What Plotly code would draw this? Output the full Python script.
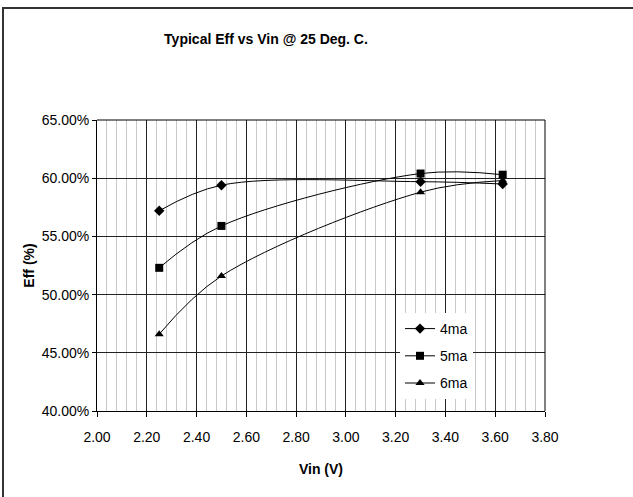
import plotly.graph_objects as go

vin = [2.25, 2.50, 3.30, 3.63]
eff_4ma = [0.572, 0.594, 0.597, 0.595]
eff_5ma = [0.523, 0.559, 0.604, 0.603]
eff_6ma = [0.466, 0.516, 0.588, 0.598]
series_names = ["4ma", "5ma", "6ma"]
symbols = ["diamond", "square", "triangle-up"]
marker_sizes = [8, 8, 8]

FONT = "Liberation Sans, Arial, sans-serif"

fig = go.Figure()
for i, (name, ys) in enumerate(zip(series_names, [eff_4ma, eff_5ma, eff_6ma])):
    fig.add_trace(go.Scatter(
        x=vin, y=ys, name=name, mode="lines+markers",
        line=dict(color="black", width=1, shape="spline", smoothing=1.0),
        marker=dict(symbol=symbols[i], size=marker_sizes[i], color="black"),
        legendgroup=name,
    ))

W, H = 633, 497
L, R, T, B = 97, 88, 120, 86
pw, ph = W - L - R, H - T - B

def px_x(p):
    return (p - L) / pw

def px_y(p):
    return (H - B - p) / ph

fig.update_layout(
    width=W, height=H,
    margin=dict(l=L, r=R, t=T, b=B),
    paper_bgcolor="white", plot_bgcolor="white",
    font=dict(family=FONT, size=14, color="black"),
    title=dict(text="<b>Typical Eff vs Vin @ 25 Deg. C.</b>", x=266 / W, xanchor="center",
               xref="container",
               y=1 - 39 / H, yanchor="middle", font=dict(size=14, family=FONT)),
    showlegend=True,
    legend=dict(x=px_x(400), y=px_y(313), xanchor="left", yanchor="top",
                bgcolor="white", borderwidth=0, traceorder="grouped",
                tracegroupgap=6, font=dict(size=14, family=FONT), itemwidth=30),
    xaxis=dict(range=[2.0, 3.8], dtick=0.2, tick0=2.0, tickformat=".2f",
               showgrid=True, gridcolor="#222222", gridwidth=1,
               minor=dict(dtick=0.04, tick0=2.0, showgrid=True, gridcolor="#c8c8c8", gridwidth=1),
               showline=True, linecolor="black", linewidth=1, mirror=False,
               ticks="outside", ticklen=5, tickcolor="black", ticklabelstandoff=8,
               title=dict(text="<b>Vin (V)</b>", font=dict(size=14, family=FONT), standoff=20),
               tickfont=dict(size=14), zeroline=False),
    yaxis=dict(range=[0.40, 0.65], dtick=0.05, tick0=0.40, tickformat=".2%",
               showgrid=True, gridcolor="#222222", gridwidth=1,
               showline=True, linecolor="black", linewidth=1,
               ticks="outside", ticklen=4, tickcolor="black",
               title=dict(text="<b>Eff (%)</b>", font=dict(size=14, family=FONT), standoff=3),
               tickfont=dict(size=14), zeroline=False),
    shapes=[
        dict(type="line", xref="paper", yref="paper", x0=1, x1=1, y0=0, y1=1,
             line=dict(color="black", width=1)),
        dict(type="line", xref="paper", yref="paper", x0=0, x1=1, y0=1, y1=1,
             line=dict(color="black", width=1)),
        dict(type="rect", xref="paper", yref="paper",
             x0=px_x(3), x1=px_x(645), y0=px_y(8), y1=px_y(510),
             line=dict(color="#333333", width=2), fillcolor="rgba(0,0,0,0)"),
    ],
)

fig.write_html("out.html")
